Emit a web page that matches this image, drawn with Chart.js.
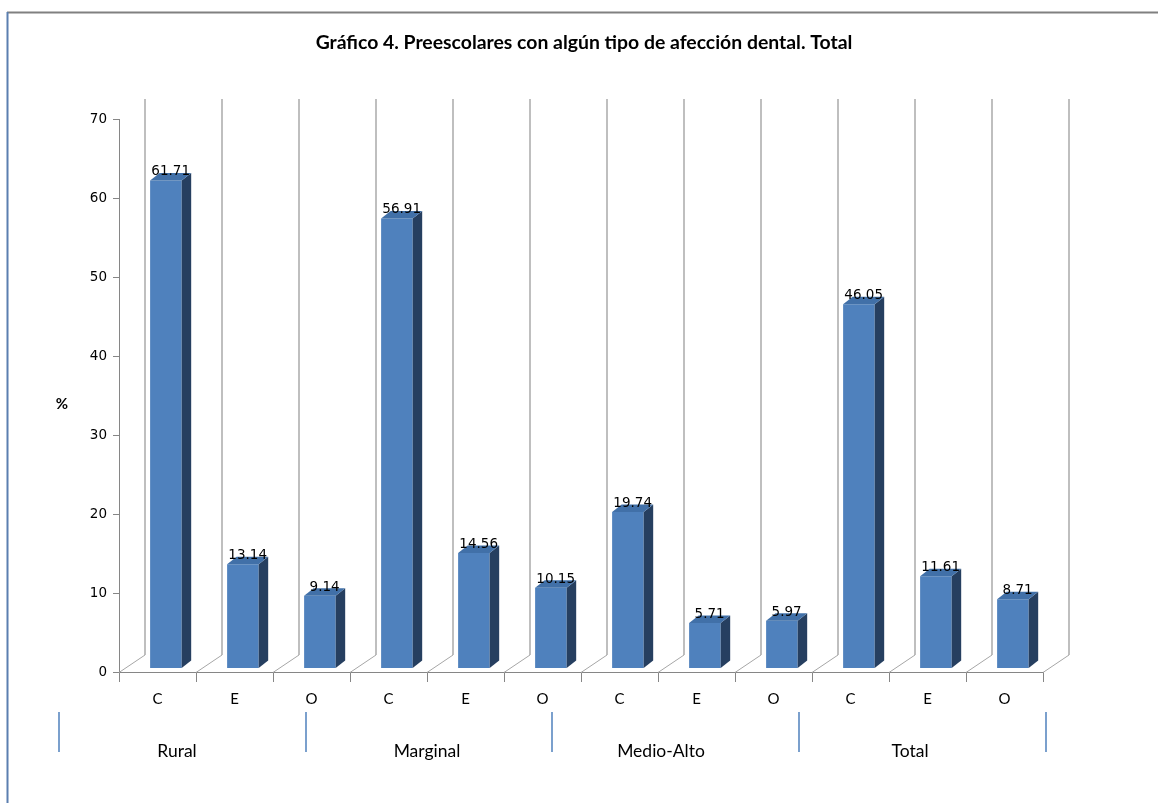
<!DOCTYPE html>
<html lang="es">
<head>
<meta charset="utf-8">
<title>Gráfico 4</title>
<script src="https://cdn.jsdelivr.net/npm/chart.js@4/dist/chart.umd.min.js"></script>
<style>
  html, body { margin: 0; padding: 0; background: #ffffff; }
  #wrap { width: 1158px; height: 803px; }
</style>
</head>
<body>
<div id="wrap"><canvas id="chart" width="1158" height="803"></canvas></div>
<script>
// Categories along the axis (C, E, O for each group)
const categories = ['C', 'E', 'O', 'C', 'E', 'O', 'C', 'E', 'O', 'C', 'E', 'O'];
// Group names shown under the category labels
const groups = ['Rural', 'Marginal', 'Medio-Alto', 'Total'];
// Percentages per category
const values = [61.71, 13.14, 9.14, 56.91, 14.56, 10.15, 19.74, 5.71, 5.97, 46.05, 11.61, 8.71];
// Value axis range
const yMin = 0, yMax = 70, yStep = 10;

const titleText = 'Gráfico 4. Preescolares con algún tipo de afección dental. Total';
const yTitle = '%';

// Geometry of the pseudo-3D look
const DEPTH_X = 26, DEPTH_Y = -17;      // floor depth (front edge -> back wall)
const BAR_DX = 9.5, BAR_DY = -7.5;      // bar thickness
const WALL_TOP = 99;                    // top of back-wall grid lines
const BAR_SHIFT = 8.4;                  // bars sit midway into the floor depth
const BAR_LIFT = 4;                     // bar bases stand slightly behind the front edge
const PX_PER_UNIT = 553 / 70;

// Group row decoration
const GROUP_SEP_X = [59, 306, 552, 799, 1046];
const GROUP_LABEL_X = [177, 427, 661, 910];
const GROUP_LABEL_Y = 751;

const FRONT = '#4F81BD', SIDE = '#263F60', TOP = '#4170A8';

const scenePlugin = {
  id: 'scene',
  beforeDatasetsDraw(chart) {
    const ctx = chart.ctx;
    const xs = chart.scales.x;
    const step = (xs.right - xs.left) / categories.length;
    const base = xs.top;
    ctx.save();
    // back wall vertical grid lines
    ctx.strokeStyle = '#BFBFBF';
    ctx.lineWidth = 2;
    for (let k = 0; k <= categories.length; k++) {
      const x = Math.round(xs.left + k * step + DEPTH_X);
      ctx.beginPath();
      ctx.moveTo(x, WALL_TOP);
      ctx.lineTo(x, base + DEPTH_Y);
      ctx.stroke();
    }
    // floor diagonals
    ctx.strokeStyle = '#A6A6A6';
    ctx.lineWidth = 1;
    for (let k = 0; k <= categories.length; k++) {
      const x = xs.left + k * step;
      ctx.beginPath();
      ctx.moveTo(x, base + 0.5);
      ctx.lineTo(x + DEPTH_X, base + DEPTH_Y);
      ctx.stroke();
    }
    ctx.restore();
  },
  afterDatasetsDraw(chart) {
    const ctx = chart.ctx;
    const meta = chart.getDatasetMeta(0);
    ctx.save();
    meta.data.forEach((bar, i) => {
      const p = bar.getProps(['x', 'y', 'base', 'width'], true);
      const l = p.x - p.width / 2, r = p.x + p.width / 2;
      const top = p.y, bot = p.base;
      // side face
      ctx.fillStyle = SIDE;
      ctx.beginPath();
      ctx.moveTo(r, top);
      ctx.lineTo(r + BAR_DX, top + BAR_DY);
      ctx.lineTo(r + BAR_DX, bot + BAR_DY);
      ctx.lineTo(r, bot);
      ctx.closePath();
      ctx.fill();
      // top face
      ctx.fillStyle = TOP;
      ctx.beginPath();
      ctx.moveTo(l, top);
      ctx.lineTo(l + BAR_DX, top + BAR_DY);
      ctx.lineTo(r + BAR_DX, top + BAR_DY);
      ctx.lineTo(r, top);
      ctx.closePath();
      ctx.fill();
      // value label
      ctx.fillStyle = '#000000';
      ctx.font = '13.5px "DejaVu Sans"';
      ctx.textAlign = 'center';
      ctx.textBaseline = 'middle';
      ctx.fillText(values[i].toFixed(2), p.x + BAR_DX / 2, top + BAR_DY - 1);
    });
    ctx.restore();
  },
  afterDraw(chart) {
    const ctx = chart.ctx;
    ctx.save();
    // outer frame
    ctx.strokeStyle = '#808080';
    ctx.lineWidth = 2;
    ctx.beginPath();
    ctx.moveTo(7, 12.5);
    ctx.lineTo(1158, 12.5);
    ctx.stroke();
    ctx.strokeStyle = '#5B7FB0';
    ctx.beginPath();
    ctx.moveTo(7.5, 12);
    ctx.lineTo(7.5, 803);
    ctx.stroke();
    // title
    ctx.fillStyle = '#000000';
    ctx.textAlign = 'center';
    ctx.textBaseline = 'middle';
    ctx.font = 'bold 19.4px Lato';
    ctx.fillText(titleText, 584, 43);
    // value axis title
    ctx.font = 'bold 15px Lato';
    ctx.fillText(yTitle, 62, 404);
    // group separators and names
    ctx.strokeStyle = '#4F81BD';
    ctx.lineWidth = 1.5;
    GROUP_SEP_X.forEach(x => {
      ctx.beginPath();
      ctx.moveTo(x, 712);
      ctx.lineTo(x, 752);
      ctx.stroke();
    });
    ctx.font = '17.5px Lato';
    groups.forEach((g, i) => ctx.fillText(g, GROUP_LABEL_X[i], GROUP_LABEL_Y));
    ctx.restore();
  }
};

const xbMin = -0.5 - BAR_SHIFT / 77;
const ybMin = -BAR_LIFT / PX_PER_UNIT;
const ybMax = ybMin + 553 / PX_PER_UNIT;

new Chart(document.getElementById('chart'), {
  type: 'bar',
  data: {
    labels: categories,
    datasets: [{
      data: values.map((v, i) => ({ x: i, y: v })),
      xAxisID: 'xb',
      yAxisID: 'yb',
      backgroundColor: FRONT,
      borderWidth: 0,
      barPercentage: 0.41,
      categoryPercentage: 1,
      clip: false
    }]
  },
  options: {
    responsive: false,
    animation: false,
    devicePixelRatio: 1,
    layout: { padding: { left: 0, top: 119, right: 115, bottom: 0 } },
    plugins: { legend: { display: false }, tooltip: { enabled: false }, title: { display: false } },
    scales: {
      x: {
        type: 'category',
        position: 'bottom',
        offset: true,
        grid: { offset: true, drawOnChartArea: false, drawTicks: true, tickLength: 10, color: '#868686' },
        border: { color: '#868686', width: 1 },
        ticks: { color: '#000000', font: { family: 'Lato', size: 15 }, padding: 8, maxRotation: 0 },
        afterFit(s) { s.height = 131; }
      },
      y: {
        type: 'linear',
        position: 'left',
        min: yMin,
        max: yMax,
        grid: { drawOnChartArea: false, drawTicks: true, tickLength: 6, color: '#868686' },
        border: { color: '#868686', width: 1 },
        ticks: { stepSize: yStep, color: '#000000', font: { family: 'DejaVu Sans', size: 13.5 }, padding: 6 },
        afterFit(s) { s.width = 119; }
      },
      xb: { type: 'linear', display: false, offset: false, bounds: 'ticks', min: xbMin, max: xbMin + categories.length },
      yb: { type: 'linear', display: false, min: ybMin, max: ybMax }
    }
  },
  plugins: [scenePlugin]
});
</script>
</body>
</html>
